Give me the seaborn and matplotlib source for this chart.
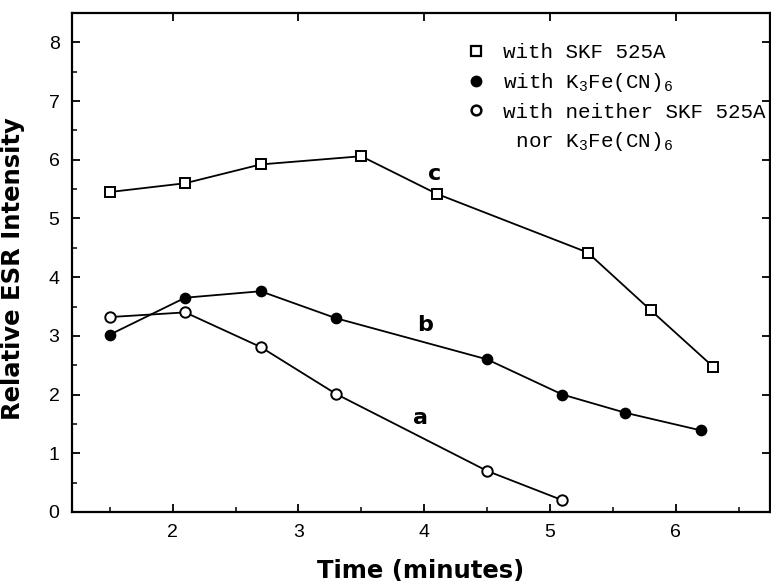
import matplotlib
matplotlib.use('Agg')
import matplotlib.pyplot as plt
import seaborn as sns
import pandas as pd
from matplotlib.lines import Line2D
from matplotlib.ticker import MultipleLocator, FixedLocator

# ---- data ----
time_c = [1.5, 2.1, 2.7, 3.5, 4.1, 5.3, 5.8, 6.3]
esr_c = [5.45, 5.60, 5.92, 6.06, 5.42, 4.42, 3.44, 2.47]

time_b = [1.5, 2.1, 2.7, 3.3, 4.5, 5.1, 5.6, 6.2]
esr_b = [3.02, 3.65, 3.76, 3.30, 2.60, 2.00, 1.69, 1.39]

time_a = [1.5, 2.1, 2.7, 3.3, 4.5, 5.1]
esr_a = [3.32, 3.40, 2.81, 2.01, 0.70, 0.20]

curve_labels = ["c", "b", "a"]
curve_label_x = [4.08, 4.01, 3.97]
curve_label_y = [5.76, 3.19, 1.60]

legend_labels = ["with SKF 525A",
                 "with K$_3$Fe(CN)$_6$",
                 "with neither SKF 525A",
                 " nor K$_3$Fe(CN)$_6$"]

x_major = [2, 3, 4, 5, 6]
y_major = [0, 1, 2, 3, 4, 5, 6, 7, 8]

sns.set_style("ticks")
plt.rcParams['font.family'] = ['DejaVu Sans']
plt.rcParams['text.color'] = 'black'
plt.rcParams['axes.labelcolor'] = 'black'
plt.rcParams['xtick.color'] = 'black'
plt.rcParams['ytick.color'] = 'black'
plt.rcParams['mathtext.fontset'] = 'custom'
plt.rcParams['mathtext.rm'] = 'Liberation Mono'
plt.rcParams['mathtext.it'] = 'Liberation Mono'
plt.rcParams['mathtext.bf'] = 'Liberation Mono'

fig = plt.figure(figsize=(7.71, 5.82), dpi=100)
ax = fig.add_axes([0.0934, 0.1203, 0.9053, 0.8574])

series = [
    (time_c, esr_c, 's', 'white', 6.5),
    (time_b, esr_b, 'o', 'black', 7),
    (time_a, esr_a, 'o', 'white', 7.5),
]
for tx, ty, mk, fc, ms in series:
    df = pd.DataFrame({"Time": tx, "ESR": ty})
    sns.lineplot(data=df, x="Time", y="ESR", ax=ax, color='black',
                 linewidth=1.3, marker=mk, markersize=ms,
                 markerfacecolor=fc, markeredgecolor='black',
                 markeredgewidth=1.4, zorder=3)

for lab, lx, ly in zip(curve_labels, curve_label_x, curve_label_y):
    ax.text(lx, ly, lab, fontsize=16, fontweight='bold', ha='center',
            va='center', family='DejaVu Sans', color='black')

ax.set_xlim(1.2, 6.75)
ax.set_ylim(0, 8.5)
ax.xaxis.set_major_locator(FixedLocator(x_major))
ax.yaxis.set_major_locator(FixedLocator(y_major))
ax.xaxis.set_minor_locator(MultipleLocator(0.5))
ax.yaxis.set_minor_locator(MultipleLocator(0.5))

for s in ax.spines.values():
    s.set_linewidth(1.6)
    s.set_color('black')

ax.tick_params(which='major', direction='in', length=6, width=1.3,
               top=True, right=True, labelsize=14, pad=9, colors='black')
ax.tick_params(which='minor', direction='in', length=3.5, width=1.1,
               top=False, right=False, bottom=True, left=True)
for t in ax.get_xticklabels() + ax.get_yticklabels():
    t.set_family('Liberation Sans')

ax.set_xlabel("Time (minutes)", fontsize=17.5, fontweight='bold')
ax.set_ylabel("Relative ESR Intensity", fontsize=17.5, fontweight='bold')
ax.xaxis.set_label_coords(0.5, -0.094)
ax.yaxis.set_label_coords(-0.067, 0.487)

handles = [
    Line2D([], [], linestyle='none', marker='s', markersize=6.5,
           markerfacecolor='white', markeredgecolor='black', markeredgewidth=1.6),
    Line2D([], [], linestyle='none', marker='o', markersize=7.5,
           markerfacecolor='black', markeredgecolor='black'),
    Line2D([], [], linestyle='none', marker='o', markersize=7,
           markerfacecolor='white', markeredgecolor='black', markeredgewidth=1.8),
    Line2D([], [], linestyle='none', marker=None),
]
leg = ax.legend(handles=handles, labels=legend_labels, loc='upper left',
                bbox_to_anchor=(0.607, 0.926), bbox_transform=fig.transFigure,
                frameon=False, handlelength=0.8, handletextpad=0.9,
                borderpad=0, borderaxespad=0, labelspacing=0.42,
                prop={'family': 'Liberation Mono', 'size': 15})

fig.savefig("out.png", dpi=100)
